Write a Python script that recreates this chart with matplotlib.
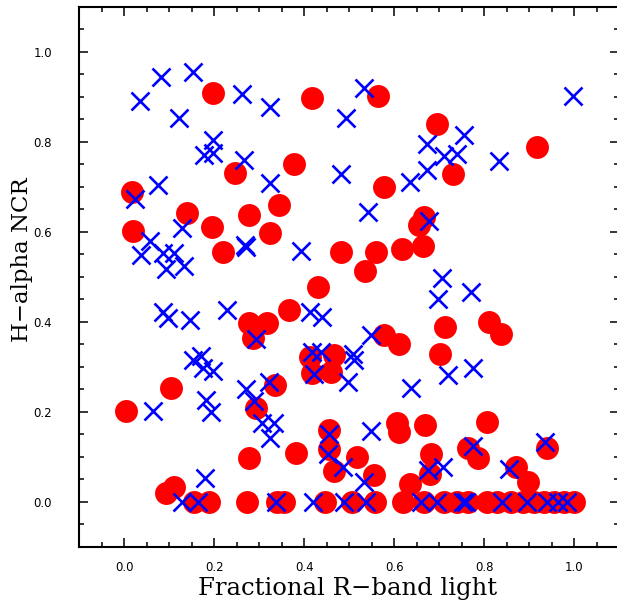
import numpy as np
import matplotlib
matplotlib.use("Agg")
import matplotlib.pyplot as plt
from matplotlib.ticker import MultipleLocator

# filled red circles
red_x = [0.196, 0.418, 0.564, 0.694, 0.918,
         0.376, 0.247, 0.731, 0.578,
         0.018, 0.343, 0.139, 0.276, 0.667, 0.655,
         0.020, 0.194, 0.323,
         0.220, 0.482, 0.559, 0.618, 0.664,
         0.534, 0.430,
         0.367, 0.277, 0.316, 0.285,
         0.578, 0.611, 0.811, 0.837, 0.712, 0.702,
         0.413, 0.466, 0.418, 0.459,
         0.103, 0.334, 0.004, 0.292,
         0.455, 0.455, 0.466, 0.381, 0.277, 0.518, 0.555,
         0.605, 0.610, 0.668, 0.681, 0.679, 0.635,
         0.807, 0.764, 0.786, 0.940, 0.871, 0.897,
         0.092, 0.111,
         0.155, 0.188, 0.273, 0.340, 0.355, 0.446, 0.507, 0.557, 0.620, 0.667,
         0.710, 0.740, 0.763, 0.807, 0.829, 0.859, 0.885, 0.911, 0.933, 0.955,
         0.977, 0.999]
red_y = [0.909, 0.897, 0.902, 0.839, 0.789,
         0.750, 0.731, 0.728, 0.699,
         0.689, 0.660, 0.641, 0.637, 0.633, 0.615,
         0.602, 0.610, 0.598,
         0.554, 0.555, 0.555, 0.562, 0.568,
         0.512, 0.477,
         0.426, 0.396, 0.397, 0.364,
         0.370, 0.350, 0.400, 0.373, 0.389, 0.328,
         0.322, 0.326, 0.285, 0.289,
         0.252, 0.258, 0.202, 0.208,
         0.159, 0.116, 0.068, 0.108, 0.096, 0.098, 0.059,
         0.174, 0.154, 0.170, 0.105, 0.061, 0.038,
         0.177, 0.118, 0.096, 0.119, 0.077, 0.043,
         0.020, 0.032,
         0.0, 0.0, 0.0, 0.0, 0.0, 0.0, 0.0, 0.0, 0.0, 0.0,
         0.0, 0.0, 0.0, 0.0, 0.0, 0.0, 0.0, 0.0, 0.0, 0.0,
         0.0, 0.0]

# blue crosses
blue_x = [0.081, 0.152, 0.034, 0.262, 0.323, 0.122, 0.532, 0.493, 0.998,
          0.196, 0.177, 0.198, 0.266, 0.672, 0.755, 0.710, 0.739, 0.833,
          0.482, 0.672, 0.635, 0.323, 0.074, 0.023,
          0.542, 0.677, 0.129,
          0.057, 0.037, 0.085, 0.111, 0.092, 0.133,
          0.268, 0.271, 0.393,
          0.705, 0.697, 0.770,
          0.085, 0.096, 0.145, 0.229, 0.413, 0.440,
          0.292, 0.548, 0.509, 0.511, 0.418, 0.437, 0.422,
          0.153, 0.170, 0.174, 0.197,
          0.321, 0.497, 0.638, 0.720, 0.774,
          0.270, 0.288, 0.181, 0.192, 0.063,
          0.307, 0.332, 0.323,
          0.548, 0.455, 0.452, 0.485, 0.533, 0.674, 0.709, 0.774, 0.934, 0.854,
          0.179,
          0.129, 0.163, 0.338, 0.419, 0.489, 0.537, 0.659, 0.695, 0.753, 0.760,
          0.840, 0.896, 0.940, 0.964, 0.983]
blue_y = [0.943, 0.954, 0.890, 0.907, 0.877, 0.853, 0.920, 0.852, 0.902,
          0.804, 0.770, 0.775, 0.759, 0.795, 0.815, 0.769, 0.772, 0.757,
          0.728, 0.738, 0.711, 0.709, 0.703, 0.672,
          0.644, 0.623, 0.607,
          0.580, 0.548, 0.553, 0.552, 0.516, 0.523,
          0.570, 0.566, 0.558,
          0.496, 0.450, 0.465,
          0.421, 0.407, 0.404, 0.426, 0.422, 0.411,
          0.362, 0.370, 0.329, 0.314, 0.333, 0.332, 0.283,
          0.315, 0.324, 0.296, 0.290,
          0.266, 0.265, 0.253, 0.282, 0.296,
          0.250, 0.224, 0.226, 0.200, 0.202,
          0.175, 0.174, 0.142,
          0.157, 0.151, 0.105, 0.076, 0.044, 0.070, 0.077, 0.123, 0.133, 0.072,
          0.052,
          0.0, 0.0, 0.0, 0.0, 0.0, 0.0, 0.0, 0.0, 0.0, 0.0,
          0.0, 0.0, 0.0, 0.0, 0.0]

tick_vals = [0.0, 0.2, 0.4, 0.6, 0.8, 1.0]
tick_labels = ["0.0", "0.2", "0.4", "0.6", "0.8", "1.0"]

fig = plt.figure(figsize=(6.17, 6.07), dpi=100)
ax = fig.add_axes([79.3 / 617, 60.5 / 607, 540 / 617, 539.8 / 607])

ax.plot(red_x, red_y, linestyle="none", marker="o", ms=16.5,
        color="#ff0000", mec="none")
ax.plot(blue_x, blue_y, linestyle="none", marker="x", ms=12.5,
        mew=1.9, color="#0000ff")

ax.set_xlim(-0.1, 1.1)
ax.set_ylim(-0.1, 1.1)

ax.set_xticks(tick_vals)
ax.set_xticklabels(tick_labels)
ax.set_yticks(tick_vals)
ax.set_yticklabels(tick_labels)
ax.xaxis.set_minor_locator(MultipleLocator(0.05))
ax.yaxis.set_minor_locator(MultipleLocator(0.05))

ax.tick_params(which="both", direction="in", top=True, right=True, width=1.1)
ax.tick_params(which="major", length=6.5, labelsize=8.5)
ax.tick_params(which="minor", length=3.5)
ax.tick_params(axis="x", which="major", pad=10.5)
ax.tick_params(axis="y", which="major", pad=19.5)
for lab in ax.get_xticklabels() + ax.get_yticklabels():
    lab.set_family("DejaVu Sans")

for sp in ax.spines.values():
    sp.set_linewidth(1.5)

ax.set_xlabel("Fractional R\u2212band light", family="DejaVu Serif", fontsize=17.5,
              va="center")
ax.set_ylabel("H\u2212alpha NCR", family="DejaVu Serif", fontsize=16.5,
              va="center")
ax.xaxis.set_label_coords(0.497, -0.077)
ax.yaxis.set_label_coords(-0.106, 0.531)

fig.savefig("out.png", dpi=100)
